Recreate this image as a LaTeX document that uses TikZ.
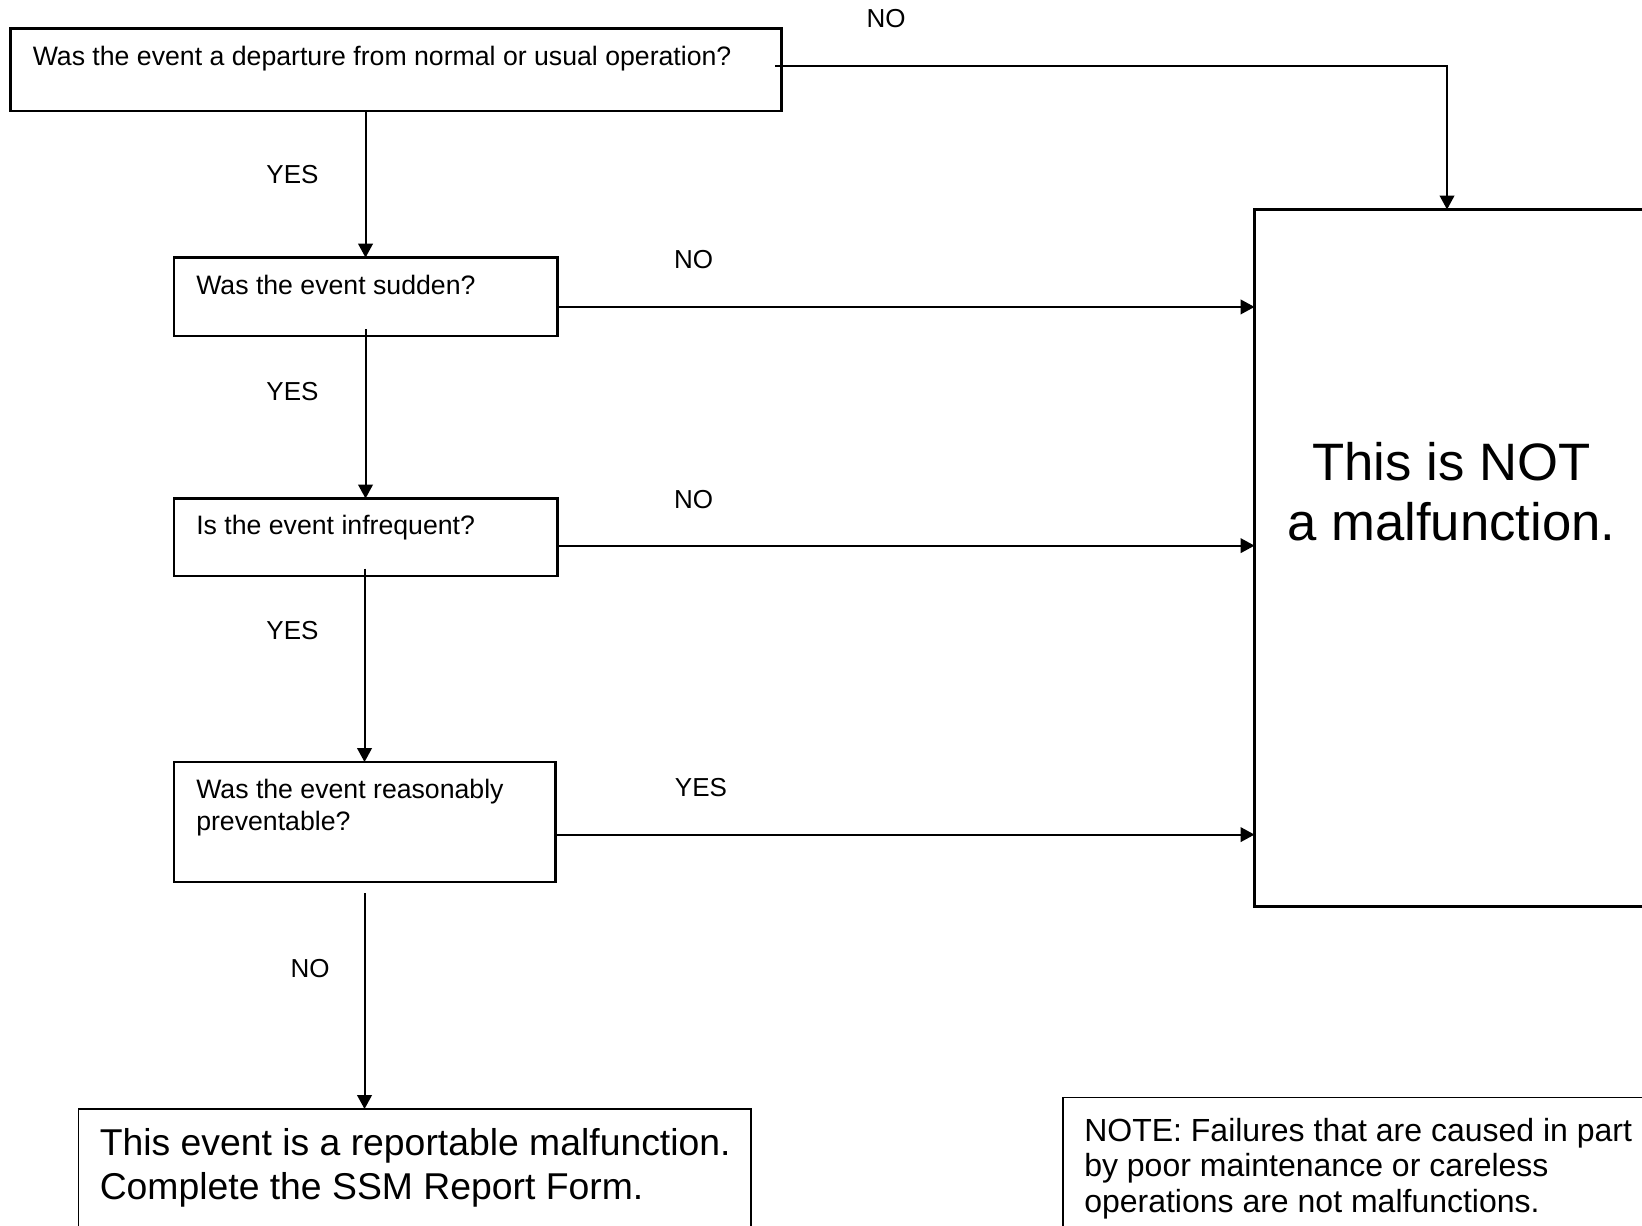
\documentclass[tikz,border=0pt]{standalone}
\usepackage{fontspec}
\setmainfont{Liberation Sans}
\usetikzlibrary{arrows.meta,calc}
\begin{document}
\begin{tikzpicture}[x=0.75pt,y=-0.75pt,
  qbox/.style={draw, line width=2.2pt, rectangle, anchor=north west, inner sep=0pt, outer sep=0pt},
  ebox/.style={draw, line width=1.3pt, rectangle, anchor=north west, inner sep=0pt, outer sep=0pt},
  txt/.style={font=\fontsize{20}{23.6}\selectfont, align=left, inner sep=0pt},
  bigtxt/.style={font=\fontsize{28}{33}\selectfont, align=left, inner sep=0pt},
  notetxt/.style={font=\fontsize{24}{26.6}\selectfont, align=left, inner sep=0pt},
  hugetxt/.style={font=\fontsize{39.5}{45}\selectfont, align=center, inner sep=0pt},
  lbl/.style={font=\fontsize{19.5}{23}\selectfont, inner sep=0pt},
  conn/.style={line width=1.5pt, -{Triangle[length=10.5pt,width=11pt]}},
  ]
\useasboundingbox (0,0) rectangle (1642,1225);
\clip (0,0) rectangle (1642,1225);

% boxes
\node[qbox, minimum width=577.9pt, minimum height=62pt] (q1) at (10.5,28.3) {};
\node[qbox, minimum width=287.3pt, minimum height=58.8pt] (q2) at (174,257.6) {};
\node[qbox, minimum width=287.3pt, minimum height=58.1pt] (q3) at (174,498.5) {};
\node[qbox, minimum width=285.8pt, minimum height=90pt] (q4) at (174,762) {};
\node[qbox, minimum width=334pt, minimum height=522.4pt] (big) at (1254.5,209.5) {};
\node[ebox, minimum width=504.4pt, minimum height=120pt] (res) at (78.5,1109) {};
\node[ebox, minimum width=477.8pt, minimum height=122pt] (note) at (1063,1097.5) {};

% texts
\node[txt, anchor=base west] (t1) at (32.5,65) {Was the event a departure from normal or usual operation?};
\node[txt, anchor=base west] (t2) at (196,294.5) {Was the event sudden?};
\node[txt, anchor=base west] (t3) at (196,534) {Is the event infrequent?};
\node[txt, anchor=north west] (t4) at (196,779) {Was the event reasonably\\preventable?};
\node[bigtxt, anchor=north west] (t5) at (99.5,1128.4) {This event is a reportable malfunction.\\Complete the SSM Report Form.};
\node[notetxt, anchor=north west] (t6) at (1084,1117.6) {NOTE: Failures that are caused in part\\by poor maintenance or careless\\operations are not malfunctions.};
\node[hugetxt, anchor=north] (t7) at (1451.5,442) {This is NOT\\a malfunction.};

% connectors
\draw[conn] (q1.south -| q2.north) -- (q2.north);
\draw[conn] ([yshift=5.25pt]q2.south) -- (q3.north);
\draw[conn] ([yshift=5.5pt]q3.south -| q4.north) -- (q4.north);
\draw[conn] ([yshift=-8.25pt]q4.south) -- (q4.south |- res.north);
\draw[conn] ([xshift=-4.5pt,yshift=2.7pt]q1.east) -| ([xshift=144.4pt]big.north west);
\draw[conn] ([yshift=-7.6pt]q2.east) -- ([yshift=-7.6pt]q2.east -| big.west);
\draw[conn] ([yshift=-6.3pt]q3.east) -- ([yshift=-6.3pt]q3.east -| big.west);
\draw[conn] ([xshift=1.5pt,yshift=-9.45pt]q4.east) -- ([yshift=-9.45pt]q4.east -| big.west);

% labels
\node[lbl] (n1) at (886,19) {NO};
\node[lbl] (y1) at (292.5,175) {YES};
\node[lbl] (y2) at (292.5,392) {YES};
\node[lbl] (y3) at (292.5,631) {YES};
\node[lbl] (n2) at (693.5,260) {NO};
\node[lbl] (n3) at (693.5,499.5) {NO};
\node[lbl] (y4) at (701,787.5) {YES};
\node[lbl] (n4) at (310,968.6) {NO};
\end{tikzpicture}
\end{document}
